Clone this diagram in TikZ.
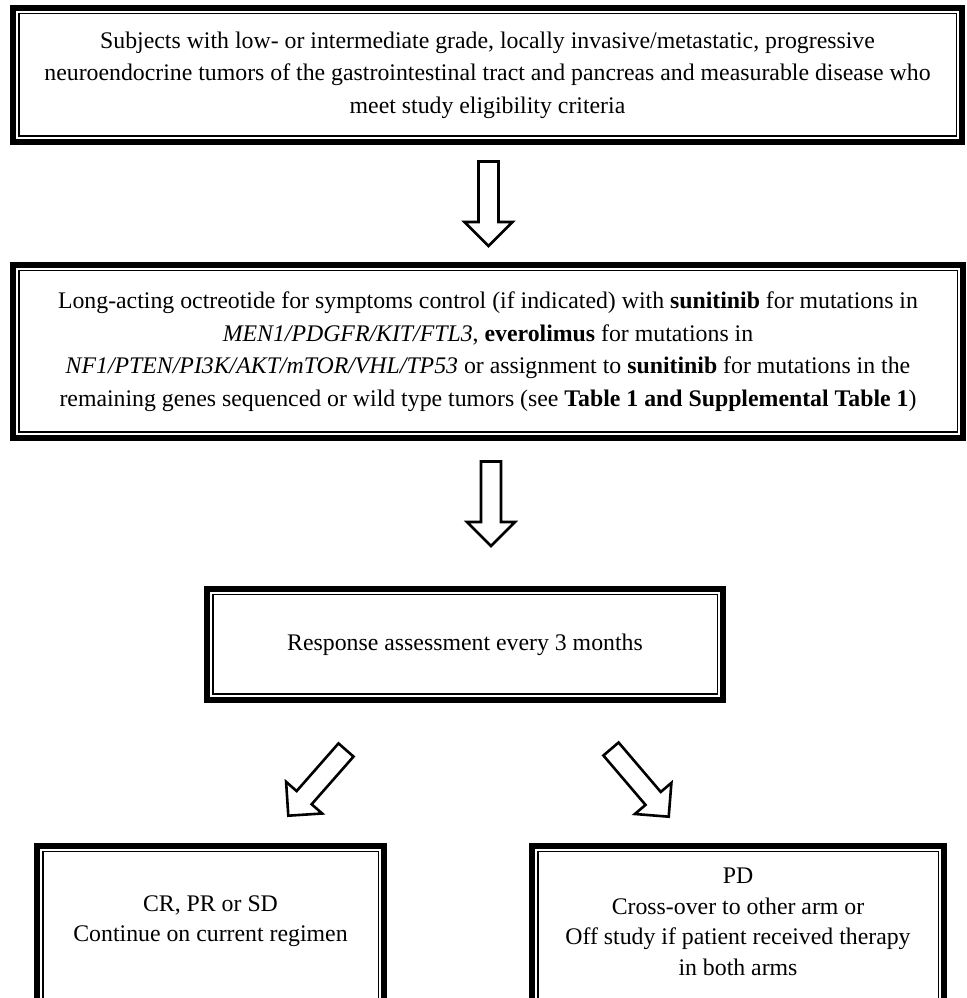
\documentclass[tikz,border=0pt]{standalone}
\usepackage{fontspec}
\setmainfont{Liberation Serif}
\usetikzlibrary{calc}
\tikzset{
  dbox/.style={draw, line width=6pt, inner sep=0pt, align=center,
    font={\fontsize{23.8}{32.5}\selectfont}},
  innerline/.style={draw, line width=1.4pt},
  txt/.style={inner sep=0pt, align=center, font={\fontsize{23.8}{30.5}\selectfont}},
  barrow/.style={draw, fill=white, line width=2.6pt, line join=miter},
}
\newcommand{\blkarrow}[3]{%
  \coordinate (#1hb) at ($(#3)!24pt!(#2)$);
  \draw[barrow] ($(#2)!10pt!90:(#3)$) -- ($(#1hb)!10pt!90:(#3)$) -- ($(#1hb)!24pt!90:(#3)$) -- (#3)
     -- ($(#1hb)!24pt!-90:(#3)$) -- ($(#1hb)!10pt!-90:(#3)$) -- ($(#2)!10pt!-90:(#3)$) -- cycle;
}
\begin{document}
\begin{tikzpicture}[x=1pt,y=1pt]
\useasboundingbox (0,0) rectangle (966,998);
\fill[white] (0,0) rectangle (966,998);
\clip (0,0) rectangle (966,998);

\node[dbox, minimum width=949pt, minimum height=134pt] (b1) at (487.5,923) {Subjects with low- or intermediate grade, locally invasive/metastatic, progressive\\neuroendocrine tumors of the gastrointestinal tract and pancreas and measurable disease who\\meet study eligibility criteria};

\node[dbox, minimum width=950pt, minimum height=173pt] (b2) at (488,646.5) {Long-acting octreotide for symptoms control (if indicated) with \textbf{sunitinib} for mutations in\\\textit{MEN1/PDGFR/KIT/FTL3}, \textbf{everolimus} for mutations in\\\textit{NF1/PTEN/PI3K/AKT/mTOR/VHL/TP53} or assignment to \textbf{sunitinib} for mutations in the\\remaining genes sequenced or wild type tumors (see \textbf{Table 1 and Supplemental Table 1})};

\node[dbox, minimum width=516pt, minimum height=111pt] (b3) at (465,353.5) {Response assessment every 3 months};

\node[dbox, minimum width=347pt, minimum height=163pt] (b4) at (210.5,70.5) {};
\node[dbox, minimum width=412pt, minimum height=163pt] (b5) at (738,70.5) {};

\foreach \n in {b1,b2,b3,b4,b5}
  \draw[innerline] ([shift={(8.8pt,-8.8pt)}]\n.north west) rectangle ([shift={(-8.8pt,8.8pt)}]\n.south east);

\node[txt] (t4) at (210.5,77) {CR, PR or SD\\Continue on current regimen};
\node[txt] (t5) at (738,76) {PD\\Cross-over to other arm or\\Off study if patient received therapy\\in both arms};

\coordinate (a1t) at (488.5,836.5);
\coordinate (a1h) at (488.5,752);
\coordinate (a2t) at (491,536.5);
\coordinate (a2h) at (491,452);
\coordinate (a3t) at (346,248);
\coordinate (a3h) at (288.3,182.3);
\coordinate (a4t) at (611,249);
\coordinate (a4h) at (668.7,181.3);

\blkarrow{aa}{a1t}{a1h}
\blkarrow{ab}{a2t}{a2h}
\blkarrow{ac}{a3t}{a3h}
\blkarrow{ad}{a4t}{a4h}
\end{tikzpicture}
\end{document}
